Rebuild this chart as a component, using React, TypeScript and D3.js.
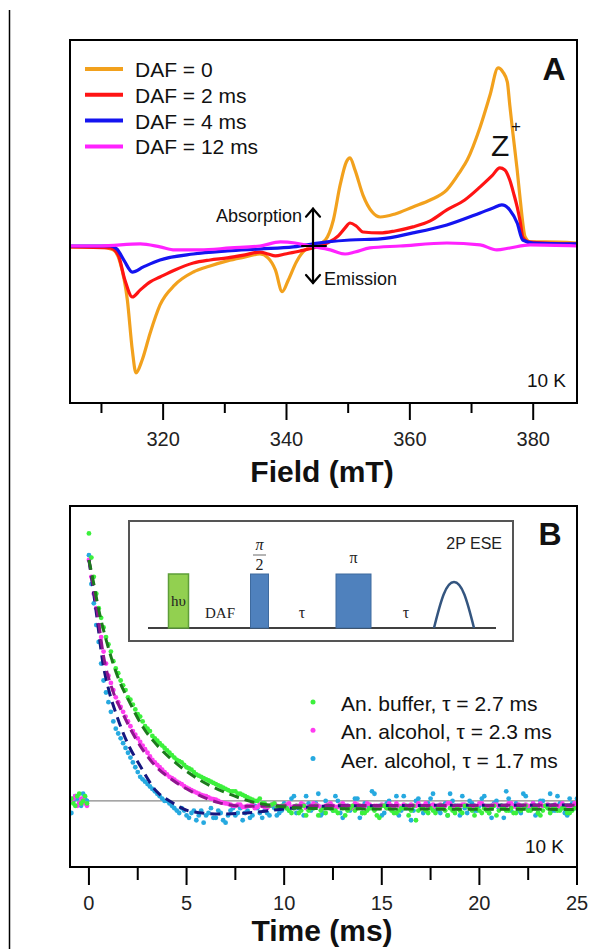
import * as d3 from "d3";

// ---------- panel A: EPR spectra vs delay after flash ----------
const FIELD_MAJOR = [320, 340, 360, 380];
const FIELD_MINOR = [310, 330, 350, 370];

const DAF_LABELS = ["DAF = 0", "DAF = 2 ms", "DAF = 4 ms", "DAF = 12 ms"];
const DAF_COLORS = ["#f2a11d", "#ff1414", "#1414f0", "#ff22ff"];

const DAF0_FIELD = [304.9, 309.8, 311.9, 313.0, 314.2, 315.0, 315.6, 316.6, 317.9, 319.5, 321.9, 324.9, 327.6, 330.4, 333.3, 335.7, 337.0, 338.2, 339.3, 340.3, 341.6, 343.0, 344.6, 346.3, 347.6, 348.7, 349.7, 350.3, 351.1, 352.4, 353.9, 355.2, 357.6, 360.5, 363.3, 366.0, 368.1, 369.3, 371.4, 373.0, 374.3, 375.1, 375.8, 376.2, 376.7, 377.4, 377.9, 378.7, 379.5, 381.9, 387.1];
const DAF0_SIGNAL = [-0.011, -0.011, -0.028, -0.096, -0.311, -0.593, -0.723, -0.65, -0.497, -0.339, -0.226, -0.153, -0.119, -0.09, -0.068, -0.051, -0.073, -0.141, -0.264, -0.198, -0.096, -0.028, -0.006, 0.028, 0.141, 0.339, 0.469, 0.492, 0.424, 0.282, 0.186, 0.158, 0.175, 0.215, 0.254, 0.311, 0.412, 0.48, 0.667, 0.847, 1.0, 0.977, 0.921, 0.791, 0.633, 0.424, 0.254, 0.045, 0.017, 0.017, 0.011];

const DAF2_FIELD = [304.9, 311.4, 312.7, 313.8, 315.0, 316.3, 317.9, 319.5, 321.9, 324.9, 327.6, 330.4, 333.3, 335.7, 337.0, 338.2, 339.8, 342.2, 344.3, 346.6, 348.4, 349.5, 350.3, 351.3, 352.4, 355.2, 357.6, 360.5, 363.3, 366.0, 368.9, 371.4, 373.3, 374.6, 375.4, 376.2, 376.9, 377.4, 377.9, 378.3, 379.2, 381.9, 387.1];
const DAF2_SIGNAL = [-0.011, -0.017, -0.056, -0.198, -0.294, -0.254, -0.209, -0.181, -0.141, -0.102, -0.085, -0.073, -0.056, -0.04, -0.051, -0.062, -0.051, -0.034, -0.017, 0.011, 0.051, 0.096, 0.124, 0.107, 0.073, 0.068, 0.079, 0.102, 0.136, 0.198, 0.254, 0.328, 0.39, 0.435, 0.424, 0.367, 0.282, 0.215, 0.13, 0.045, 0.017, 0.011, 0.006];

const DAF4_FIELD = [304.9, 311.4, 312.5, 313.7, 315.0, 316.8, 319.5, 324.9, 330.4, 335.7, 341.1, 346.6, 350.3, 355.2, 360.5, 366.0, 371.4, 373.5, 374.9, 376.2, 377.4, 378.3, 380.0, 387.1];
const DAF4_SIGNAL = [-0.006, -0.006, -0.023, -0.09, -0.153, -0.124, -0.085, -0.051, -0.034, -0.023, -0.011, 0.017, 0.028, 0.034, 0.068, 0.113, 0.181, 0.209, 0.226, 0.198, 0.124, 0.028, 0.011, 0.006];

const DAF12_FIELD = [304.9, 309.8, 316.3, 319.5, 321.9, 326.0, 330.9, 335.7, 339.0, 341.4, 343.8, 347.1, 349.5, 351.1, 353.5, 358.4, 366.0, 371.4, 374.1, 376.2, 379.5, 387.1];
const DAF12_SIGNAL = [-0.006, -0.006, 0.006, -0.011, -0.028, -0.028, -0.017, -0.006, 0.017, 0.011, -0.006, -0.028, -0.051, -0.04, -0.017, -0.006, 0.011, 0.0, -0.028, -0.017, 0.0, -0.006];

// ---------- panel B: echo decay ----------
const TIME_MAJOR = [0, 5, 10, 15, 20, 25];
const TIME_MINOR = [2.5, 7.5, 12.5, 17.5, 22.5];

const SAMPLE_LABELS = ["An. buffer, \u03c4 = 2.7 ms", "An. alcohol, \u03c4 = 2.3 ms", "Aer. alcohol, \u03c4 = 1.7 ms"];
const SAMPLE_COLORS = ["#3cf03c", "#ff3cf0", "#26a9e0"];
const FIT_COLORS = ["#1c7a1c", "#8e168e", "#16167e"];

const PRE_TIME = [-0.9, -0.8, -0.7, -0.6, -0.5, -0.4, -0.3, -0.2, -0.1];
const DECAY_STEP = 0.25; // samples on the grid, "MID" samples sit half a step later

const BUFFER_PRE = [0.01, -0.01, -0.02, 0.02, 0.03, -0.01, 0.0, 0.02, -0.01];
const BUFFER_DECAY = [
  1.11, 0.93, 0.8, 0.72, 0.65, 0.58, 0.53, 0.48, 0.43, 0.4,
  0.36, 0.33, 0.3, 0.27, 0.25, 0.23, 0.21, 0.19, 0.17, 0.16,
  0.14, 0.13, 0.11, 0.1, 0.09, 0.08, 0.07, 0.06, 0.05, 0.04,
  0.04, 0.03, 0.02, 0.01, 0.0, 0.01, -0.01, -0.02, -0.01, -0.03,
  -0.02,
  -0.04, -0.03, -0.05, -0.02, -0.04, -0.03, -0.06, -0.03, -0.02, -0.04,
  -0.05, -0.03, -0.04, -0.02, -0.03, -0.05, -0.04, -0.03, -0.06, -0.02,
  -0.03, -0.04, -0.05, -0.03, -0.02, -0.04, -0.08, -0.03, -0.04, -0.03,
  -0.05, -0.02, -0.04, -0.03, -0.05, -0.04, -0.02, -0.03, -0.06, -0.04,
  -0.03, -0.05, -0.02, -0.04, -0.03, -0.04, -0.05, -0.03, -0.02, -0.04,
  -0.03, -0.05, -0.04, -0.03, -0.02, -0.04, -0.03, -0.05, -0.04, -0.03,
];
const BUFFER_MID = [
  1.01, 0.86, 0.76, 0.68, 0.62, 0.55, 0.5, 0.46, 0.42, 0.38,
  0.35, 0.31, 0.29, 0.26, 0.24, 0.22, 0.2, 0.18, 0.165, 0.15,
  0.135, 0.12, 0.105, 0.095, 0.085, 0.075, 0.065, 0.055, 0.045, 0.04,
  0.03, 0.025, 0.015, 0.005, 0.0, -0.01, -0.02, -0.015, -0.03, -0.02,
  -0.03, -0.05, -0.02, -0.04, -0.06, -0.03, -0.02, -0.04, -0.05, -0.03,
  -0.04, -0.02, -0.06, -0.03, -0.04, -0.02, -0.05, -0.03, -0.04, -0.07,
  -0.02, -0.03, -0.05, -0.04, -0.03, -0.06, -0.02, -0.04, -0.03, -0.05,
  -0.04, -0.03, -0.02, -0.06, -0.04, -0.03, -0.05, -0.02, -0.04, -0.03,
  -0.05, -0.04, -0.03, -0.06, -0.02, -0.04, -0.03, -0.05, -0.04, -0.02,
  -0.04, -0.03, -0.06, -0.02, -0.05, -0.03, -0.04, -0.02, -0.05, -0.03,
];

const ANALC_PRE = [0.0, 0.01, 0.02, -0.02, -0.01, 0.01, 0.01, -0.01, -0.02];
const ANALC_DECAY = [
  1.0, 0.86, 0.73, 0.62, 0.52, 0.46, 0.41, 0.37, 0.33, 0.29,
  0.26, 0.23, 0.2, 0.17, 0.15, 0.13, 0.11, 0.095, 0.08, 0.07,
  0.055, 0.045, 0.035, 0.025, 0.02, 0.01, 0.005, -0.005, -0.01, -0.015,
  -0.02, -0.015, -0.025, -0.02, -0.03, -0.015, -0.025, -0.02, -0.01, -0.025,
  -0.02, -0.01, -0.03, -0.02, -0.015, -0.025, -0.01, -0.02, -0.03, -0.015,
  -0.02, -0.025, -0.01, -0.02, -0.03, -0.015, -0.02, -0.01, -0.025, -0.02,
  -0.015, -0.03, -0.02, -0.01, -0.025, -0.02, -0.015, -0.02, -0.03, -0.01,
  -0.02, -0.025, -0.015, -0.02, -0.01, -0.03, -0.02, -0.015, -0.025, -0.02,
  -0.01, -0.02, -0.03, -0.015, -0.02, -0.025, -0.01, -0.02, -0.015, -0.03,
  -0.02, -0.01, -0.025, -0.02, -0.015, -0.02, -0.03, -0.01, -0.02, -0.025,
  -0.02,
];
const ANALC_MID = [
  0.93, 0.8, 0.68, 0.57, 0.49, 0.43, 0.39, 0.35, 0.31, 0.275,
  0.245, 0.215, 0.185, 0.16, 0.14, 0.12, 0.1, 0.088, 0.075, 0.062,
  0.05, 0.04, 0.03, 0.022, 0.015, 0.008, 0.0, -0.008, -0.012, -0.02,
  -0.015, -0.025, -0.02, -0.01, -0.025, -0.02, -0.03, -0.015, -0.02, -0.025,
  -0.015, -0.025, -0.02, -0.01, -0.03, -0.02, -0.015, -0.025, -0.02, -0.01,
  -0.025, -0.015, -0.02, -0.03, -0.01, -0.02, -0.025, -0.015, -0.02, -0.03,
  -0.02, -0.01, -0.025, -0.02, -0.015, -0.03, -0.02, -0.01, -0.02, -0.025,
  -0.015, -0.02, -0.03, -0.01, -0.025, -0.02, -0.015, -0.02, -0.03, -0.02,
  -0.01, -0.025, -0.02, -0.015, -0.03, -0.02, -0.01, -0.025, -0.02, -0.015,
  -0.02, -0.03, -0.01, -0.02, -0.025, -0.015, -0.02, -0.03, -0.02, -0.01,
];

const AER_PRE = [-0.05, 0.0, 0.02, 0.01, -0.01, -0.02, 0.03, 0.01, 0.0];
const AER_DECAY = [
  1.02, 0.82, 0.66, 0.5, 0.41, 0.33, 0.28, 0.24, 0.2, 0.16,
  0.12, 0.09, 0.07, 0.05, 0.03, 0.01, 0.0, -0.02, -0.04, -0.03,
  -0.06, -0.05, -0.08, -0.04, -0.06, -0.03, -0.07, -0.05, -0.09, -0.04,
  -0.06, -0.03, -0.05, -0.07, -0.02, -0.05, -0.04, -0.06, -0.03, -0.05,
  -0.01, -0.04, 0.02, -0.03, -0.06, -0.01, -0.03, 0.03, -0.05, -0.02,
  -0.04, 0.0, -0.07, -0.02, -0.03, 0.01, -0.05, -0.02, 0.04, -0.03,
  -0.06, -0.01, -0.02, 0.02, -0.04, -0.03, -0.08, 0.0, -0.02, -0.04,
  0.01, -0.03, -0.05, -0.01, 0.03, -0.02, -0.06, -0.03, 0.0, -0.04,
  -0.02, 0.02, -0.05, -0.01, -0.03, -0.07, 0.01, -0.02, -0.04, 0.03,
  -0.03, -0.01, -0.05, 0.0, -0.02, -0.04, 0.02, -0.03, -0.06, -0.01,
  0.01,
];
const AER_MID = [
  0.9, 0.73, 0.57, 0.45, 0.37, 0.3, 0.26, 0.22, 0.18, 0.14,
  0.1, 0.08, 0.06, 0.04, 0.02, 0.0, -0.01, -0.03, -0.05, -0.04,
  -0.07, -0.04, -0.06, -0.09, -0.05, -0.07, -0.04, -0.08, -0.06, -0.03,
  -0.05, -0.08, -0.04, -0.06, -0.03, -0.07, -0.05, -0.02, -0.06, -0.04,
  -0.03, 0.01, -0.05, -0.02, 0.02, -0.04, -0.01, -0.06, 0.0, -0.03,
  0.02, -0.05, -0.02, -0.04, 0.01, -0.07, -0.01, -0.03, 0.03, -0.02,
  -0.05, 0.0, -0.03, -0.06, 0.02, -0.02, -0.04, 0.01, -0.05, -0.01,
  0.03, -0.04, -0.02, -0.06, 0.0, -0.03, 0.02, -0.05, -0.01, -0.04,
  0.01, -0.03, -0.07, 0.0, -0.02, 0.04, -0.04, -0.01, -0.05, 0.02,
  -0.03, -0.06, 0.0, -0.02, 0.03, -0.04, -0.01, -0.05, 0.01, -0.03,
];

const BUFFER_FIT_T = [0, 0.13, 0.54, 1.05, 1.5, 2.08, 2.74, 3.62, 4.49, 5.67, 7.05, 8.38, 10.1, 12, 25];
const BUFFER_FIT = [1.0, 0.95, 0.78, 0.62, 0.51, 0.41, 0.31, 0.22, 0.155, 0.087, 0.033, -0.004, -0.025, -0.032, -0.035];
const ANALC_FIT_T = [0, 0.4, 0.75, 1.21, 1.72, 2.44, 3.26, 4.28, 5.31, 6.69, 8.08, 10, 25];
const ANALC_FIT = [1.0, 0.8, 0.6, 0.46, 0.365, 0.253, 0.158, 0.087, 0.037, -0.008, -0.022, -0.02, -0.018];
const AER_FIT_T = [0, 0.38, 0.7, 1.05, 1.4, 1.92, 2.59, 3.46, 4.13, 5.31, 6.69, 8.08, 10.4, 13, 25];
const AER_FIT = [1.0, 0.78, 0.58, 0.45, 0.36, 0.25, 0.15, 0.04, 0.0, -0.045, -0.054, -0.05, -0.03, -0.02, -0.017];

const FONT = "'Liberation Sans', Arial, sans-serif";
const SERIF = "'Liberation Serif', 'DejaVu Serif', serif";

const zip = (xs: number[], ys: number[]) => xs.map((x, i) => [x, ys[i]] as [number, number]);

export default function App() {
  const W = 590;
  const H = 949;

  const xA = d3.scaleLinear().domain([304.9, 387.1]).range([70, 577]);
  const yA = d3.scaleLinear().domain([-0.893, 1.158]).range([403, 40]);
  const xB = d3.scaleLinear().domain([-0.97, 25]).range([70, 577]);
  const yB = d3.scaleLinear().domain([-0.274, 1.224]).range([867, 506]);

  const lineA = d3
    .line<[number, number]>()
    .x((d) => xA(d[0]))
    .y((d) => yA(d[1]))
    .curve(d3.curveMonotoneX);
  const lineB = d3
    .line<[number, number]>()
    .x((d) => xB(d[0]))
    .y((d) => yB(d[1]))
    .curve(d3.curveMonotoneX);

  const spectra = [
    zip(DAF0_FIELD, DAF0_SIGNAL),
    zip(DAF2_FIELD, DAF2_SIGNAL),
    zip(DAF4_FIELD, DAF4_SIGNAL),
    zip(DAF12_FIELD, DAF12_SIGNAL),
  ];

  const decayPoints = (pre: number[], decay: number[], mid: number[]) => [
    ...zip(PRE_TIME, pre),
    ...decay.map((v, i) => [i * DECAY_STEP, v] as [number, number]),
    ...mid.map((v, i) => [(i + 0.5) * DECAY_STEP, v] as [number, number]),
  ];
  const scatter = [
    decayPoints(BUFFER_PRE, BUFFER_DECAY, BUFFER_MID),
    decayPoints(ANALC_PRE, ANALC_DECAY, ANALC_MID),
    decayPoints(AER_PRE, AER_DECAY, AER_MID),
  ];
  const fits = [zip(BUFFER_FIT_T, BUFFER_FIT), zip(ANALC_FIT_T, ANALC_FIT), zip(AER_FIT_T, AER_FIT)];
  // draw order: aerated first, buffer on top
  const drawOrder = [2, 1, 0];

  const arrowX = xA(344.3);
  const arrowTop = yA(0.205);
  const arrowBot = yA(-0.215);

  return (
    <svg
      width={W}
      height={H}
      style={{ position: "absolute", left: 0, top: 0, background: "#fff" }}
      fontFamily={FONT}
    >
      <defs>
        <clipPath id="clipA">
          <rect x={70} y={40} width={507} height={363} />
        </clipPath>
        <clipPath id="clipB">
          <rect x={70} y={506} width={507} height={361} />
        </clipPath>
      </defs>
      <rect x={0} y={0} width={W} height={H} fill="#fff" />
      <line x1={9.5} x2={9.5} y1={10} y2={H} stroke="#000" strokeWidth={1.5} />

      {/* ===== Panel A ===== */}
      <g clipPath="url(#clipA)">
        {spectra.map((s, i) => (
          <path key={i} d={lineA(s) || ""} fill="none" stroke={DAF_COLORS[i]} strokeWidth={3.2} strokeLinejoin="round" />
        ))}
      </g>
      <rect x={70} y={40} width={507} height={363} fill="none" stroke="#000" strokeWidth={2} />
      {FIELD_MAJOR.map((f) => (
        <g key={f}>
          <line x1={xA(f)} x2={xA(f)} y1={403} y2={420} stroke="#000" strokeWidth={2} />
          <text x={xA(f)} y={446} fontSize={20} textAnchor="middle" fill="#222">
            {f}
          </text>
        </g>
      ))}
      {FIELD_MINOR.map((f) => (
        <line key={f} x1={xA(f)} x2={xA(f)} y1={403} y2={413} stroke="#000" strokeWidth={2} />
      ))}
      <text x={322} y={482} fontSize={30} fontWeight="bold" textAnchor="middle" fill="#111">
        Field (mT)
      </text>

      {DAF_LABELS.map((lab, i) => (
        <g key={lab}>
          <line x1={85} x2={123} y1={69 + i * 25.8} y2={69 + i * 25.8} stroke={DAF_COLORS[i]} strokeWidth={4} />
          <text x={135} y={77 + i * 25.8} fontSize={21} fill="#111">
            {lab}
          </text>
        </g>
      ))}
      <text x={554} y={80} fontSize={32} fontWeight="bold" textAnchor="middle" fill="#111">
        A
      </text>
      <text x={491} y={156} fontSize={30} fill="#111">
        Z
      </text>
      <text x={511} y={132} fontSize={17} fill="#111">
        +
      </text>

      {/* absorption / emission arrow */}
      <g stroke="#000" strokeWidth={2.2} fill="none" strokeLinecap="round">
        <line x1={arrowX} x2={arrowX} y1={arrowTop} y2={arrowBot} />
        <polyline points={`${arrowX - 7},${arrowTop + 8} ${arrowX},${arrowTop} ${arrowX + 7},${arrowTop + 8}`} />
        <polyline points={`${arrowX - 7},${arrowBot - 8} ${arrowX},${arrowBot} ${arrowX + 7},${arrowBot - 8}`} />
        <line x1={arrowX - 11} x2={arrowX + 13} y1={yA(-0.006)} y2={yA(-0.006)} />
      </g>
      <text x={302} y={222} fontSize={18} textAnchor="end" fill="#111">
        Absorption
      </text>
      <text x={324} y={285} fontSize={18} fill="#111">
        Emission
      </text>
      <text x={566} y={387} fontSize={19} textAnchor="end" fill="#111">
        10 K
      </text>

      {/* ===== Panel B ===== */}
      <line x1={70} x2={577} y1={yB(0)} y2={yB(0)} stroke="#888" strokeWidth={1.3} />
      <g clipPath="url(#clipB)">
        {drawOrder.map((k) => (
          <g key={k} fill={SAMPLE_COLORS[k]}>
            {scatter[k].map((d, j) => (
              <circle key={j} cx={xB(d[0])} cy={yB(d[1])} r={2.4} />
            ))}
          </g>
        ))}
        {drawOrder.map((k) => (
          <path
            key={k}
            d={lineB(fits[k]) || ""}
            fill="none"
            stroke={FIT_COLORS[k]}
            strokeWidth={3}
            strokeDasharray="10 6"
          />
        ))}
      </g>
      <rect x={70} y={506} width={507} height={361} fill="none" stroke="#000" strokeWidth={2} />
      {TIME_MAJOR.map((t) => (
        <g key={t}>
          <line x1={xB(t)} x2={xB(t)} y1={867} y2={885} stroke="#000" strokeWidth={2} />
          <text x={xB(t)} y={910} fontSize={20} textAnchor="middle" fill="#222">
            {t}
          </text>
        </g>
      ))}
      {TIME_MINOR.map((t) => (
        <line key={t} x1={xB(t)} x2={xB(t)} y1={867} y2={880} stroke="#000" strokeWidth={2} />
      ))}
      <text x={322} y={941} fontSize={30} fontWeight="bold" textAnchor="middle" fill="#111">
        Time (ms)
      </text>
      <text x={550} y={545} fontSize={32} fontWeight="bold" textAnchor="middle" fill="#111">
        B
      </text>

      {SAMPLE_LABELS.map((lab, i) => (
        <g key={lab}>
          <circle cx={313} cy={702 + i * 28.3} r={2.5} fill={SAMPLE_COLORS[i]} />
          <text x={341} y={711 + i * 28.3} fontSize={21} fill="#111">
            {lab}
          </text>
        </g>
      ))}
      <text x={564} y={853} fontSize={19} textAnchor="end" fill="#111">
        10 K
      </text>

      {/* pulse sequence inset */}
      <rect x={129} y={521} width={384} height={120} fill="#fff" stroke="#555" strokeWidth={2} />
      <line x1={148} x2={496} y1={628} y2={628} stroke="#000" strokeWidth={1.5} />
      <rect x={168.5} y={574} width={20} height={54} fill="#92d050" stroke="#5e9e38" strokeWidth={1.5} />
      <text x={178.5} y={606} fontSize={15} fontFamily={SERIF} textAnchor="middle" fill="#222">
        h{"\u03c5"}
      </text>
      <text x={220} y={618} fontSize={15} fontFamily={SERIF} textAnchor="middle" fill="#222">
        DAF
      </text>
      <rect x={250.5} y={574} width={18} height={54} fill="#4f81bd" stroke="#3e6a9e" strokeWidth={1} />
      <text x={259.5} y={550} fontSize={16} fontFamily={SERIF} fontStyle="italic" textAnchor="middle" fill="#222">
        {"\u03c0"}
      </text>
      <line x1={253} x2={266} y1={555} y2={555} stroke="#444" strokeWidth={0.8} />
      <text x={259.5} y={570} fontSize={16} fontFamily={SERIF} textAnchor="middle" fill="#222">
        2
      </text>
      <text x={302} y={618} fontSize={16} fontFamily={SERIF} textAnchor="middle" fill="#222">
        {"\u03c4"}
      </text>
      <rect x={336} y={574} width={35} height={54} fill="#4f81bd" stroke="#3e6a9e" strokeWidth={1} />
      <text x={353.5} y={563} fontSize={16} fontFamily={SERIF} textAnchor="middle" fill="#222">
        {"\u03c0"}
      </text>
      <text x={406} y={618} fontSize={16} fontFamily={SERIF} textAnchor="middle" fill="#222">
        {"\u03c4"}
      </text>
      <path d="M434,628 C441,600 446,582 454,582 C462,582 467,600 474,628" fill="none" stroke="#34557f" strokeWidth={2.5} />
      <text x={502} y={549} fontSize={16} textAnchor="end" fill="#222">
        2P ESE
      </text>
    </svg>
  );
}
